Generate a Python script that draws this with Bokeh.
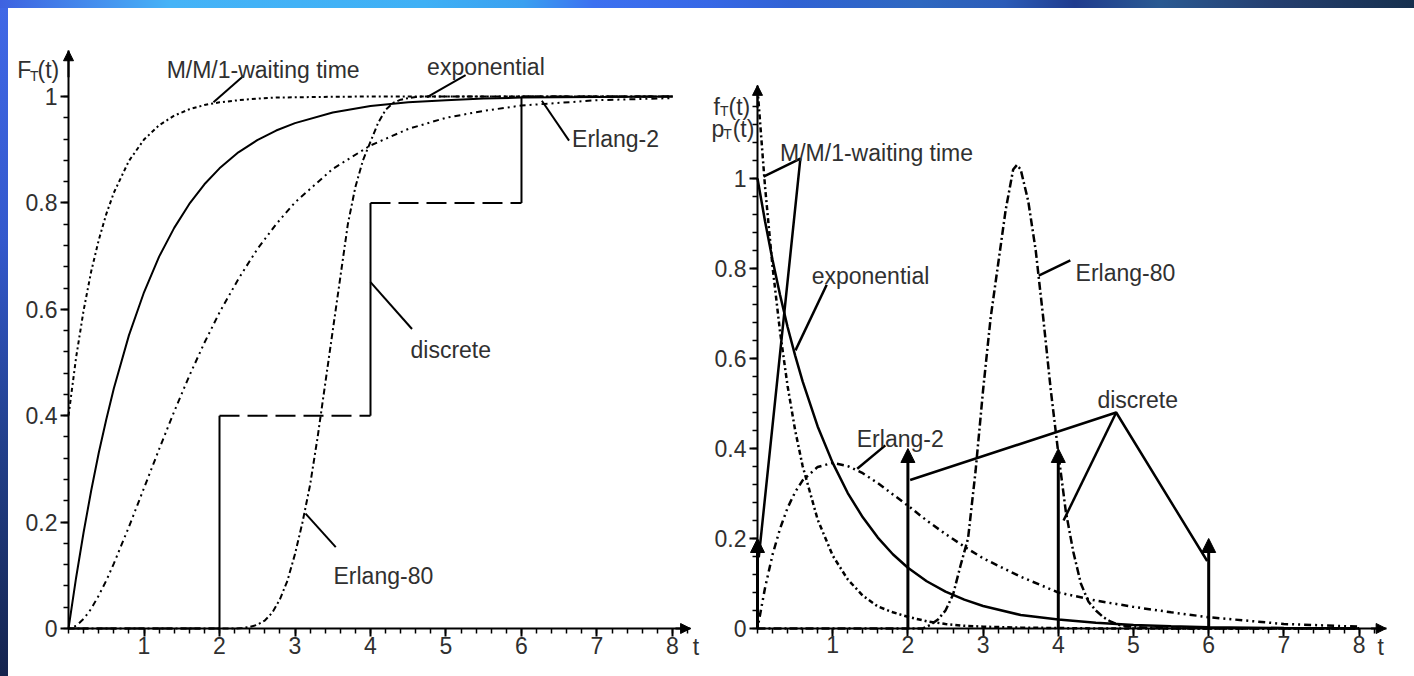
from bokeh.plotting import figure
from bokeh.models import (Arrow, NormalHead, Label, FixedTicker, CustomJSTickFormatter,
                          ColumnDataSource, Div, Range1d)
from bokeh.layouts import row, column
from bokeh.embed import file_html
from bokeh.resources import INLINE
from itertools import accumulate

# ---------------------------------------------------------------- data
# common time grid for the smooth curves
t = [0, 0.1, 0.2, 0.3, 0.4, 0.5, 0.6, 0.8, 1.0, 1.2, 1.4, 1.6, 1.8, 2.0,
     2.25, 2.5, 2.75, 3.0, 3.5, 4.0, 4.5, 5.0, 5.5, 6.0, 7.0, 8.0]

# distribution functions F_T(t)
cdf_exponential = [0, 0.095, 0.181, 0.259, 0.330, 0.393, 0.451, 0.551, 0.632, 0.699,
                   0.753, 0.798, 0.835, 0.865, 0.895, 0.918, 0.936, 0.950, 0.970,
                   0.982, 0.989, 0.993, 0.996, 0.998, 0.999, 1.0]
cdf_erlang2 = [0, 0.005, 0.018, 0.037, 0.062, 0.090, 0.122, 0.191, 0.264, 0.337,
               0.408, 0.475, 0.537, 0.594, 0.657, 0.713, 0.760, 0.801, 0.864,
               0.908, 0.939, 0.960, 0.973, 0.983, 0.993, 0.997]
cdf_mm1_wait = [0.40, 0.509, 0.598, 0.671, 0.730, 0.779, 0.819, 0.879, 0.919, 0.946,
                0.964, 0.976, 0.984, 0.989, 0.993, 0.996, 0.998, 0.9985, 0.9995,
                1.0, 1.0, 1.0, 1.0, 1.0, 1.0, 1.0]

# densities f_T(t)
pdf_exponential = [1.0, 0.905, 0.819, 0.741, 0.670, 0.607, 0.549, 0.449, 0.368, 0.301,
                   0.247, 0.202, 0.165, 0.135, 0.105, 0.082, 0.064, 0.050, 0.030,
                   0.020, 0.013, 0.008, 0.005, 0.003, 0.001, 0.0]
pdf_erlang2 = [0, 0.090, 0.164, 0.222, 0.268, 0.303, 0.329, 0.359, 0.368, 0.361,
               0.345, 0.323, 0.298, 0.273, 0.240, 0.210, 0.182, 0.156, 0.115,
               0.080, 0.062, 0.048, 0.036, 0.025, 0.010, 0.004]
pdf_mm1_wait = [1.2, 0.982, 0.804, 0.659, 0.539, 0.441, 0.361, 0.242, 0.162, 0.109,
                0.073, 0.049, 0.036, 0.026, 0.016, 0.010, 0.006, 0.004, 0.002,
                0.001, 0.0, 0.0, 0.0, 0.0, 0.0, 0.0]

# Erlang-80 on a finer grid around its mean
t_erlang80 = [0, 2.2, 2.3, 2.4, 2.5, 2.6, 2.7, 2.8, 2.9, 3.0, 3.1, 3.2, 3.3, 3.4,
              3.45, 3.5, 3.6, 3.7, 3.8, 3.9, 4.0, 4.1, 4.2, 4.3, 4.4, 4.5, 4.6,
              4.7, 4.8, 5.0, 5.5, 8.0]
cdf_erlang80 = [0, 0, 0.001, 0.003, 0.007, 0.015, 0.030, 0.055, 0.090, 0.140, 0.200,
                0.270, 0.360, 0.460, 0.510, 0.560, 0.660, 0.760, 0.830, 0.880, 0.915,
                0.950, 0.975, 0.988, 0.994, 0.997, 0.999, 1.0, 1.0, 1.0, 1.0, 1.0]
pdf_erlang80 = [0, 0, 0.008, 0.020, 0.040, 0.075, 0.140, 0.200, 0.350, 0.530, 0.690,
                0.810, 0.930, 1.020, 1.030, 1.020, 0.950, 0.840, 0.690, 0.530, 0.390,
                0.260, 0.170, 0.100, 0.060, 0.040, 0.025, 0.015, 0.008, 0.003, 0, 0]

# discrete distribution p_T(t)
discrete_t = [2, 4, 6]
discrete_p = [0.4, 0.4, 0.2]
# probability mass of the M/M/1 waiting time at t = 0 (as drawn)
mm1_atom_t = [0]
mm1_atom_p = [0.2]

x_ticks = [1, 2, 3, 4, 5, 6, 7, 8]
y_ticks = [0, 0.2, 0.4, 0.6, 0.8, 1]

# ---------------------------------------------------------------- style
FONT = "Liberation Sans"
TEXT = "#303030"
FS = "23px"
SUB = "14px"
H = 668


def make_fig(width, x_range, y_range, x_axis_end, y_axis_end, y_minor_end):
    # the frame fills the whole figure; the axes sit at t = 0 / value = 0 inside it
    p = figure(width=width, height=H, x_range=Range1d(*x_range), y_range=Range1d(*y_range),
               output_backend="svg", toolbar_location=None,
               min_border=0, min_border_left=0, min_border_right=0,
               min_border_top=0, min_border_bottom=0)
    p.grid.visible = False
    p.outline_line_color = None
    p.background_fill_color = "white"
    p.border_fill_color = "white"
    fmt = CustomJSTickFormatter(code="return tick.toFixed(1).replace('.0', '')")
    p.xaxis.ticker = FixedTicker(ticks=x_ticks,
                                 minor_ticks=[i / 5 for i in range(0, int(x_axis_end * 5) + 1)])
    p.yaxis.ticker = FixedTicker(ticks=y_ticks,
                                 minor_ticks=[i / 25 for i in range(0, int(round(y_minor_end * 25)) + 1)])
    p.xaxis.fixed_location = 0
    p.yaxis.fixed_location = 0
    p.xaxis.bounds = (0, x_axis_end)
    p.yaxis.bounds = (0, y_axis_end)
    for ax in (p.xaxis[0], p.yaxis[0]):
        ax.formatter = fmt
        ax.axis_line_width = 2
        ax.axis_line_color = "black"
        ax.major_tick_line_width = 2
        ax.major_tick_line_color = "black"
        ax.major_tick_out = 8
        ax.major_tick_in = 0
        ax.minor_tick_line_width = 1.5
        ax.minor_tick_line_color = "black"
        ax.minor_tick_out = 5
        ax.minor_tick_in = 0
        ax.major_label_text_font = FONT
        ax.major_label_text_font_size = FS
        ax.major_label_text_color = TEXT
    p.xaxis.major_label_standoff = 0
    p.yaxis.major_label_standoff = 3
    # arrow heads closing both axes
    head = dict(size=10, fill_color="black", line_color="black")
    p.add_layout(Arrow(end=NormalHead(**head), x_start=x_axis_end - 0.2, y_start=0,
                       x_end=x_axis_end, y_end=0, line_width=2))
    p.add_layout(Arrow(end=NormalHead(**head), x_start=0, y_start=y_axis_end - 0.05,
                       x_end=0, y_end=y_axis_end, line_width=2))
    return p


def text(p, x, y, s, size=FS):
    p.add_layout(Label(x=x, y=y, text=s, text_font=FONT, text_font_size=size,
                       text_color=TEXT, text_baseline="alphabetic", text_align="left"))


def pointer(p, xs, ys, w=2):
    p.line(xs, ys, line_color="black", line_width=w)


# ---------------------------------------------------------------- left: F_T(t)
p1 = make_fig(699, (-0.795, 8.464), (-0.0902, 1.1654), 8.24, 1.086, 1.0)

p1.line(t, cdf_mm1_wait, line_color="black", line_width=2, line_dash="4 3 2 3")
p1.line(t, cdf_exponential, line_color="black", line_width=2)
p1.line(t, cdf_erlang2, line_color="black", line_width=2, line_dash="2 4 2 4 6 4")
p1.line(t_erlang80, cdf_erlang80, line_color="black", line_width=2, line_dash="6 3 2 3")

# step function of the discrete distribution
levels = list(accumulate(discrete_p))
p1.segment(x0=discrete_t, y0=[0] + levels[:-1], x1=discrete_t, y1=levels,
           line_color="black", line_width=2)
p1.segment(x0=[0] + discrete_t, y0=[0] + levels, x1=discrete_t + [8], y1=[0] + levels,
           line_color="black", line_width=2, line_dash="20 8")

text(p1, -0.68, 1.049, "F")
text(p1, -0.51, 1.039, "T", size=SUB)
text(p1, -0.41, 1.049, "(t)")
text(p1, 8.27, -0.034, "t")

text(p1, 1.30, 1.049, "M/M/1-waiting time")
pointer(p1, [2.32, 1.92], [1.039, 0.989])
text(p1, 4.75, 1.055, "exponential")
pointer(p1, [5.26, 4.75], [1.04, 0.999])
text(p1, 6.67, 0.921, "Erlang-2")
pointer(p1, [6.27, 6.63], [0.992, 0.917])
text(p1, 4.53, 0.523, "discrete")
pointer(p1, [4.0, 4.55], [0.651, 0.563])
text(p1, 3.51, 0.0996, "Erlang-80")
pointer(p1, [3.14, 3.54], [0.216, 0.153])

# ---------------------------------------------------------------- right: f_T(t), p_T(t)
p2 = make_fig(707, (-0.665, 8.737), (-0.1067, 1.3778), 8.36, 1.207, 1.16)

p2.line(t, pdf_mm1_wait, line_color="black", line_width=2.5, line_dash="5 3 2 3")
p2.line(t, pdf_exponential, line_color="black", line_width=2.5)
p2.line(t, pdf_erlang2, line_color="black", line_width=2.5, line_dash="2 4 2 4 7 4")
p2.line(t_erlang80, pdf_erlang80, line_color="black", line_width=2.5, line_dash="8 3 2 3")

bar_head = dict(size=14, fill_color="black", line_color="black")
disc_src = ColumnDataSource(dict(x=discrete_t, y0=[0] * len(discrete_t), y1=discrete_p))
p2.add_layout(Arrow(end=NormalHead(**bar_head), x_start="x", y_start="y0", x_end="x",
                    y_end="y1", source=disc_src, line_width=3))
atom_src = ColumnDataSource(dict(x=mm1_atom_t, y0=[0] * len(mm1_atom_t), y1=mm1_atom_p))
p2.add_layout(Arrow(end=NormalHead(**bar_head), x_start="x", y_start="y0", x_end="x",
                    y_end="y1", source=atom_src, line_width=3))

text(p2, -0.585, 1.16, "f")
text(p2, -0.50, 1.150, "T", size=SUB)
text(p2, -0.385, 1.16, "(t)")
text(p2, -0.612, 1.109, "p")
text(p2, -0.455, 1.099, "T", size=SUB)
text(p2, -0.33, 1.109, "(t)")
text(p2, 8.245, -0.042, "t")

text(p2, 0.30, 1.056, "M/M/1-waiting time")
pointer(p2, [0.08, 0.57, 0.017], [1.004, 1.044, 0.158], w=2.5)
text(p2, 0.72, 0.784, "exponential")
pointer(p2, [0.92, 0.505], [0.764, 0.618], w=2.5)
text(p2, 4.23, 0.789, "Erlang-80")
pointer(p2, [4.16, 3.74], [0.818, 0.784], w=2.5)
text(p2, 1.32, 0.422, "Erlang-2")
pointer(p2, [1.70, 1.326], [0.407, 0.355], w=2.5)
text(p2, 4.52, 0.507, "discrete")
pointer(p2, [2.03, 4.77, 5.98], [0.33, 0.48, 0.15], w=2.5)
pointer(p2, [4.77, 4.07], [0.48, 0.24], w=2.5)

# ---------------------------------------------------------------- slide frame
top_band = Div(text="", width=1414, height=8, margin=0, styles={
    "background": "linear-gradient(to right, #3e62e0 0%, #4590ee 7%, #45b3f7 12%, "
                  "#3fb0f5 30%, #3aa0f0 37%, #3c70f0 42%, #3768e6 50%, #3062d4 56%, "
                  "#2e68c0 65%, #2c5cb8 71%, #203c8e 76%, #2a5a92 82%, #253f70 90%, "
                  "#16304e 100%)"})
left_band = Div(text="", width=8, height=H, margin=0, styles={
    "background": "linear-gradient(to bottom, #4068e6 0%, #3358cc 35%, #22408c 65%, #15244e 100%)"})

layout = column(top_band, row(left_band, p1, p2, spacing=0), spacing=0)

open("out.html", "w").write(file_html(layout, INLINE))
